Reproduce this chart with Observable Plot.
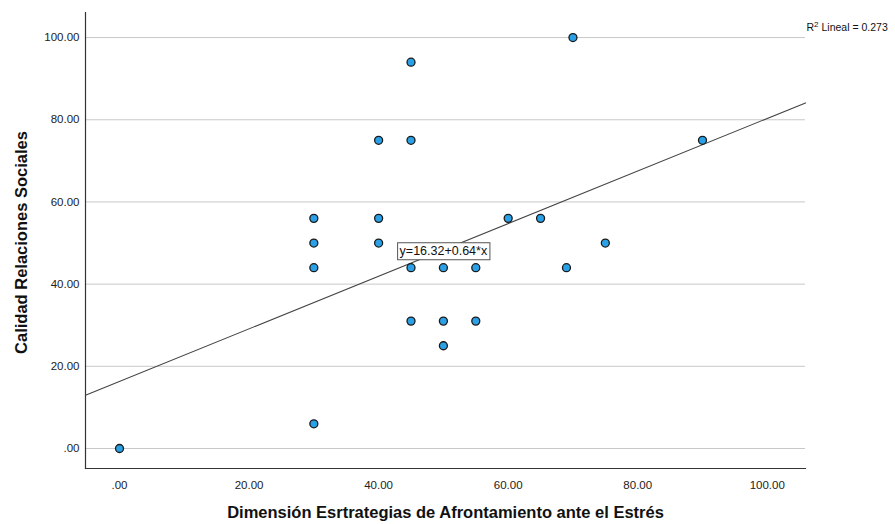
<!DOCTYPE html>
<html><head><meta charset="utf-8">
<script src="https://cdn.jsdelivr.net/npm/d3@7"></script>
<script src="https://cdn.jsdelivr.net/npm/@observablehq/plot@0.6"></script>
<style>body{margin:0;background:#fff;font-family:"Liberation Sans",Arial,sans-serif}</style>
</head><body><div id="chart"></div>
<script>
// Data
const xValues = [0, 30, 30, 30, 30, 40, 40, 40, 45, 45, 45, 45, 50, 50, 50, 55, 55, 60, 65, 69, 70, 75, 90];
const yValues = [0, 6, 56, 50, 44, 75, 56, 50, 94, 75, 44, 31, 44, 31, 25, 44, 31, 56, 56, 44, 100, 50, 75];
const xTicks = [0, 20, 40, 60, 80, 100];
const yTicks = [0, 20, 40, 60, 80, 100];
const intercept = 16.32;
const slope = 0.64;
const r2 = 0.273;
const xLabel = "Dimensión Esrtrategias de Afrontamiento ante el Estrés";
const yLabel = "Calidad Relaciones Sociales";
const eqLabel = "y=16.32+0.64*x";
const eqAt = {x: 50, y: 48};

const xDomain = [-5.25, 105.9];
const yDomain = [-4.87, 106.1];

const points = xValues.map((x, i) => ({x, y: yValues[i]}));
const fitLine = xDomain.map(x => ({x, y: intercept + slope * x}));
const fmt = v => v === 0 ? ".00" : v.toFixed(2);

const chart = Plot.plot({
  width: 895,
  height: 524,
  marginTop: 12,
  marginBottom: 56,
  marginLeft: 85,
  marginRight: 90,
  style: {fontFamily: '"Liberation Sans", Arial, sans-serif', background: "#fff"},
  x: {domain: xDomain, label: null},
  y: {domain: yDomain, label: null},
  marks: [
    Plot.gridY(yTicks, {stroke: "#c8c8c8", strokeOpacity: 1, strokeWidth: 1}),
    Plot.axisX(xTicks, {tickSize: 0, tickPadding: 12, tickFormat: fmt, fontSize: 11.5, fill: "#222", label: null}),
    Plot.axisY(yTicks, {tickSize: 0, tickPadding: 6, tickFormat: fmt, fontSize: 11.5, fill: "#222", label: null}),
    Plot.frame({anchor: "left", stroke: "#333", strokeWidth: 1.2}),
    Plot.frame({anchor: "bottom", stroke: "#333", strokeWidth: 1.2}),
    Plot.line(fitLine, {x: "x", y: "y", stroke: "#444", strokeWidth: 1.1}),
    Plot.dot(points, {x: "x", y: "y", r: 4, fill: "#2aa0e6", stroke: "#1a1a1a", strokeWidth: 1.3}),
    Plot.text([eqLabel], {x: () => eqAt.x, y: () => eqAt.y, text: d => d, fontSize: 12.5, fill: "#111", className: "eqlabel"}),
    Plot.text([`R² Lineal = ${r2}`], {frameAnchor: "top-right", dx: 1, dy: 11, textAnchor: "start", fontSize: 10.5, fill: "#111", className: "r2label"}),
    Plot.text([yLabel], {frameAnchor: "left", dx: -64, dy: 2, rotate: -90, textAnchor: "middle", lineAnchor: "middle", fontSize: 16.5, fontWeight: "bold", fill: "#111"}),
    Plot.text([xLabel], {frameAnchor: "bottom", dy: 44, textAnchor: "middle", lineAnchor: "middle", fontSize: 16.5, fontWeight: "bold", fill: "#111"})
  ]
});
document.getElementById("chart").appendChild(chart);

// superscript 2 in the R² label
const r2t = chart.querySelector("g.r2label text");
if (r2t) {
  r2t.textContent = "";
  const ns = "http://www.w3.org/2000/svg";
  const a = document.createElementNS(ns, "tspan"); a.textContent = "R";
  const b = document.createElementNS(ns, "tspan"); b.textContent = "2";
  b.setAttribute("dy", "-4"); b.setAttribute("font-size", "8");
  const c = document.createElementNS(ns, "tspan"); c.textContent = ` Lineal = ${r2}`;
  c.setAttribute("dy", "4");
  r2t.append(a, b, c);
}

// white box with border behind the equation label
const t = chart.querySelector("g.eqlabel text");
if (t) {
  const bb = t.getBBox();
  const rect = document.createElementNS("http://www.w3.org/2000/svg", "rect");
  rect.setAttribute("x", bb.x - 2);
  rect.setAttribute("y", bb.y - 1.5);
  rect.setAttribute("width", bb.width + 4);
  rect.setAttribute("height", bb.height + 3);
  rect.setAttribute("fill", "#fff");
  rect.setAttribute("stroke", "#555");
  rect.setAttribute("stroke-width", "1");
  const tr = t.getAttribute("transform");
  if (tr) rect.setAttribute("transform", tr);
  t.parentNode.insertBefore(rect, t);
}
</script>
</body></html>
